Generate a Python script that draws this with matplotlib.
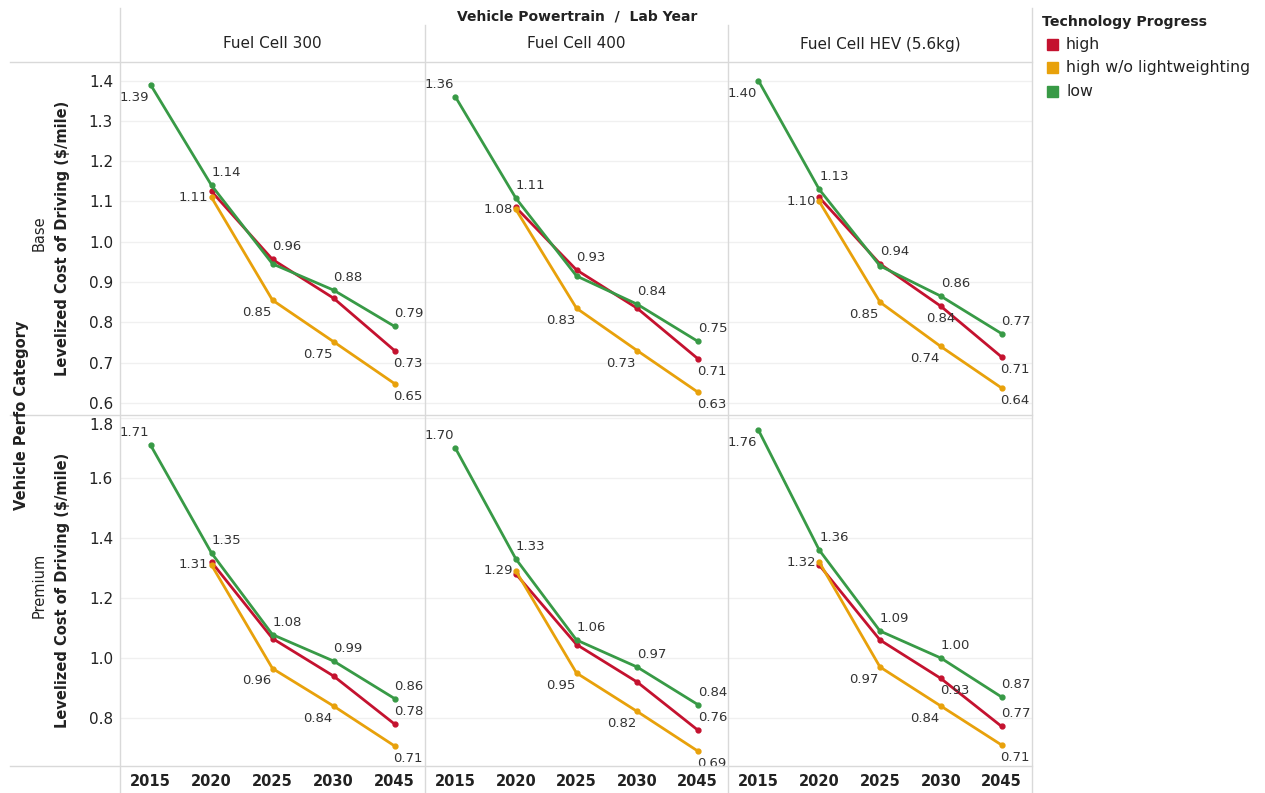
import numpy as np
from matplotlib import pyplot as plt
from matplotlib.lines import Line2D
from matplotlib.patches import Rectangle

plt.rcParams['font.family'] = ['DejaVu Sans']

years = ['2015', '2020', '2025', '2030', '2045']
powertrains = ['Fuel Cell 300', 'Fuel Cell 400', 'Fuel Cell HEV (5.6kg)']
categories = ['Base', 'Premium']
series_names = ['high', 'high w/o lightweighting', 'low']

nan = np.nan
# values per category -> per powertrain
base_high = [[nan, 1.125, 0.956, 0.86, 0.73],
             [nan, 1.085, 0.93, 0.835, 0.71],
             [nan, 1.11, 0.945, 0.84, 0.714]]
base_hwo = [[nan, 1.11, 0.855, 0.752, 0.648],
            [nan, 1.08, 0.835, 0.73, 0.627],
            [nan, 1.10, 0.85, 0.74, 0.637]]
base_low = [[1.39, 1.14, 0.945, 0.88, 0.79],
            [1.36, 1.108, 0.915, 0.845, 0.753],
            [1.40, 1.13, 0.94, 0.865, 0.772]]
prem_high = [[nan, 1.32, 1.065, 0.94, 0.78],
             [nan, 1.28, 1.045, 0.92, 0.76],
             [nan, 1.31, 1.06, 0.932, 0.772]]
prem_hwo = [[nan, 1.31, 0.965, 0.84, 0.707],
            [nan, 1.29, 0.95, 0.822, 0.69],
            [nan, 1.32, 0.97, 0.84, 0.71]]
prem_low = [[1.71, 1.35, 1.078, 0.99, 0.865],
            [1.70, 1.33, 1.06, 0.97, 0.845],
            [1.76, 1.36, 1.09, 1.00, 0.87]]

data = {
    'Base': [base_high, base_hwo, base_low],
    'Premium': [prem_high, prem_hwo, prem_low],
}

colors = ['#c4122f', '#e8a10b', '#389a46']

# label placement per panel: [high, hwo, low], one code per year
N = None
label_pos = {
    ('Base', 0): [[N, N, 'ur', N, 'br'], [N, 'l', 'll', 'll', 'br'], ['ll', 'ur', N, 'ur', 'ur']],
    ('Base', 1): [[N, N, 'ur', N, 'br'], [N, 'l', 'll', 'll', 'br'], ['ul', 'ur', N, 'ur', 'ur']],
    ('Base', 2): [[N, N, 'ur', 'b', 'br'], [N, 'l', 'll', 'll', 'br'], ['ll', 'ur', N, 'ur', 'ur']],
    ('Premium', 0): [[N, N, N, N, 'ur'], [N, 'l', 'll', 'll', 'br'], ['ul', 'ur', 'ur', 'ur', 'ur']],
    ('Premium', 1): [[N, N, N, N, 'ur'], [N, 'l', 'll', 'll', 'br'], ['ul', 'ur', 'ur', 'ur', 'ur']],
    ('Premium', 2): [[N, N, N, 'br', 'ur'], [N, 'l', 'll', 'll', 'br'], ['ll', 'ur', 'ur', 'ur', 'ur']],
}
offsets = {
    'ur': (0, 6, 'left', 'bottom'),
    'ul': (-1, 6, 'right', 'bottom'),
    'll': (-1, -6, 'right', 'top'),
    'br': (-1, -6, 'left', 'top'),
    'b': (0, -6, 'center', 'top'),
    'l': (-3, 0, 'right', 'center'),
}

W, H = 1265, 793
fig = plt.figure(figsize=(W / 100, H / 100), dpi=100)

col_x = [120, 425, 728, 1032]
row_y = [62, 415, 766]
ylims = {'Base': (0.57, 1.446), 'Premium': (0.64, 1.81)}
yticks = {'Base': np.arange(0.6, 1.41, 0.1), 'Premium': np.arange(0.8, 1.81, 0.2)}
grid_c = '#d9d9d9'
txt_c = '#222222'


def fx(px):
    return px / W


def fy(py):
    return 1 - py / H


def hline(y, x0, x1, c=grid_c):
    fig.add_artist(Line2D([fx(x0), fx(x1)], [fy(y), fy(y)], color=c, lw=1, transform=fig.transFigure))


def vline(x, y0, y1, c=grid_c):
    fig.add_artist(Line2D([fx(x), fx(x)], [fy(y0), fy(y1)], color=c, lw=1, transform=fig.transFigure))


x = np.arange(len(years))
for r, cat in enumerate(categories):
    for c, pt in enumerate(powertrains):
        l, rr = col_x[c], col_x[c + 1]
        t, b = row_y[r], row_y[r + 1]
        ax = fig.add_axes([fx(l), fy(b), fx(rr - l), (b - t) / H])
        ax.set_xlim(-0.5, len(years) - 0.5)
        ax.set_ylim(*ylims[cat])
        for s in ax.spines.values():
            s.set_visible(False)
        ax.set_yticks(yticks[cat])
        ax.yaxis.grid(True, color='#f0f0f0', lw=1)
        ax.set_axisbelow(True)
        ax.tick_params(length=0, labelsize=11, labelcolor=txt_c, pad=5)
        if c == 0:
            ax.set_yticklabels(['%.1f' % v for v in yticks[cat]])
            if r == 1:
                # top label pushed inside the pane, like the original
                ax.get_yticklabels()[-1].set_verticalalignment('top')
        else:
            ax.set_yticklabels([])
        ax.set_xticks(x)
        if r == 1:
            ax.set_xticklabels(years, fontsize=10.5, fontweight='bold', color=txt_c)
            ax.tick_params(axis='x', pad=6)
        else:
            ax.set_xticklabels([])

        for k in range(3):
            vals = np.array(data[cat][k][c], dtype=float)
            ax.plot(x, vals, color=colors[k], lw=2, marker='o', ms=3.5, zorder=3)
            for i, v in enumerate(vals):
                code = label_pos[(cat, c)][k][i]
                if code is None or np.isnan(v):
                    continue
                dx, dy, ha, va = offsets[code]
                ax.annotate('%.2f' % v, (x[i], v), xytext=(dx, dy), textcoords='offset pixels',
                            ha=ha, va=va, fontsize=9.5, color='#333333', zorder=4)

# frame lines
hline(62, 10, 1032)
hline(415, 10, 1032)
hline(766, 10, 1032)
vline(120, 8, 793)
vline(425, 25, 793)
vline(728, 25, 793)
vline(1032, 8, 793)

# headers
fig.text(fx(577), fy(17), 'Vehicle Powertrain  /  Lab Year', ha='center', va='center',
         fontsize=10, fontweight='bold', color=txt_c)
for c, pt in enumerate(powertrains):
    fig.text(fx((col_x[c] + col_x[c + 1]) / 2), fy(44), pt, ha='center', va='center',
             fontsize=11, color=txt_c)

fig.text(fx(22), fy(415), 'Vehicle Perfo Category', rotation=90, ha='center', va='center',
         fontsize=10.5, fontweight='bold', color=txt_c)
for r, cat in enumerate(categories):
    yc = (row_y[r] + row_y[r + 1]) / 2
    fig.text(fx(39), fy(yc - 5), cat, rotation=90, ha='center', va='center', fontsize=10.5, color=txt_c)
    fig.text(fx(63), fy(yc), 'Levelized Cost of Driving ($/mile)', rotation=90, ha='center',
             va='center', fontsize=10.5, fontweight='bold', color=txt_c)

# legend
fig.text(fx(1042), fy(22), 'Technology Progress', ha='left', va='center', fontsize=10.2,
         fontweight='bold', color=txt_c)
for k, name in enumerate(series_names):
    yy = 44 + k * 23.5
    fig.add_artist(Rectangle((fx(1047), fy(yy + 5.5)), fx(11), 11 / H, color=colors[k],
                             transform=fig.transFigure))
    fig.text(fx(1066), fy(yy), name, ha='left', va='center', fontsize=11.3, color=txt_c)

fig.savefig('out.png', dpi=100)
